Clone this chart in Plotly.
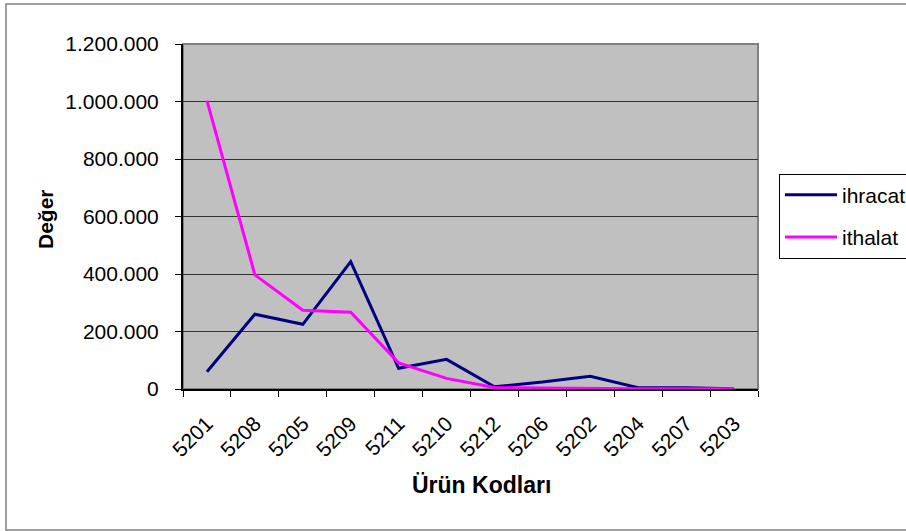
import plotly.graph_objects as go

categories = ["5201", "5208", "5205", "5209", "5211", "5210", "5212", "5206", "5202", "5204", "5207", "5203"]
ihracat = [60000, 260000, 225000, 443000, 72000, 103000, 8000, 24000, 44000, 4500, 4000, 1000]
ithalat = [1003000, 397000, 274000, 267000, 91000, 37000, 5000, 3000, 3000, 1000, 1000, 500]
y_ticks = [0, 200000, 400000, 600000, 800000, 1000000, 1200000]

L, R, T, B = 183, 758, 44, 389
W, H = 906, 531
pw, ph = R - L, B - T

def px(x):
    return (x - L) / pw

def py(y):
    return (B - y) / ph

FONT = "Arial, Liberation Sans, sans-serif"

fig = go.Figure()
fig.add_trace(go.Scatter(x=categories, y=ihracat, name="ihracat", mode="lines",
                         legendgroup="a", line=dict(color="#000080", width=3)))
fig.add_trace(go.Scatter(x=categories, y=ithalat, name="ithalat", mode="lines",
                         legendgroup="b", line=dict(color="#FF00FF", width=3)))

fig.update_layout(
    width=W, height=H,
    margin=dict(l=L, r=W - R, t=T, b=H - B, pad=0, autoexpand=False),
    paper_bgcolor="white",
    plot_bgcolor="#C0C0C0",
    separators=",.",
    font=dict(family=FONT, color="black", size=21),
    showlegend=True,
    legend=dict(x=px(779), y=py(216), xanchor="left", yanchor="middle",
                bordercolor="black", borderwidth=1, bgcolor="white",
                font=dict(size=21), tracegroupgap=12, itemwidth=52),
    xaxis=dict(type="category", tickangle=-45, tickson="boundaries",
               ticks="outside", ticklen=6, tickcolor="black",
               showline=True, linecolor="black", linewidth=2,
               showgrid=False, tickfont=dict(size=21), range=[-0.5, 11.5],
               ticklabelstandoff=12, automargin=False),
    yaxis=dict(range=[0, 1200000], tickvals=y_ticks, tickformat=",d",
               ticks="outside", ticklen=6, tickcolor="black",
               showline=True, linecolor="black", linewidth=2,
               showgrid=True, gridcolor="#333333", gridwidth=1,
               zeroline=False, tickfont=dict(size=21), ticklabelstandoff=12,
               automargin=False),
    shapes=[
        dict(type="rect", xref="paper", yref="paper", x0=0, x1=1, y0=0, y1=1,
             line=dict(color="#808080", width=2), layer="below"),
        dict(type="rect", xref="paper", yref="paper", x0=px(6), x1=px(912), y0=py(4), y1=py(530),
             line=dict(color="#808080", width=1.5)),
    ],
    annotations=[
        dict(text="<b>Ürün Kodları</b>", xref="paper", yref="paper", x=px(481), y=py(485),
             showarrow=False, font=dict(size=23), xanchor="center", yanchor="middle"),
        dict(text="<b>Değer</b>", xref="paper", yref="paper", x=px(45), y=py(219),
             showarrow=False, font=dict(size=21), textangle=-90, xanchor="center", yanchor="middle"),
    ],
)

fig.write_html("out.html", config={"displayModeBar": False},
               post_script="document.body.style.margin='0px';document.body.style.overflow='hidden';")
